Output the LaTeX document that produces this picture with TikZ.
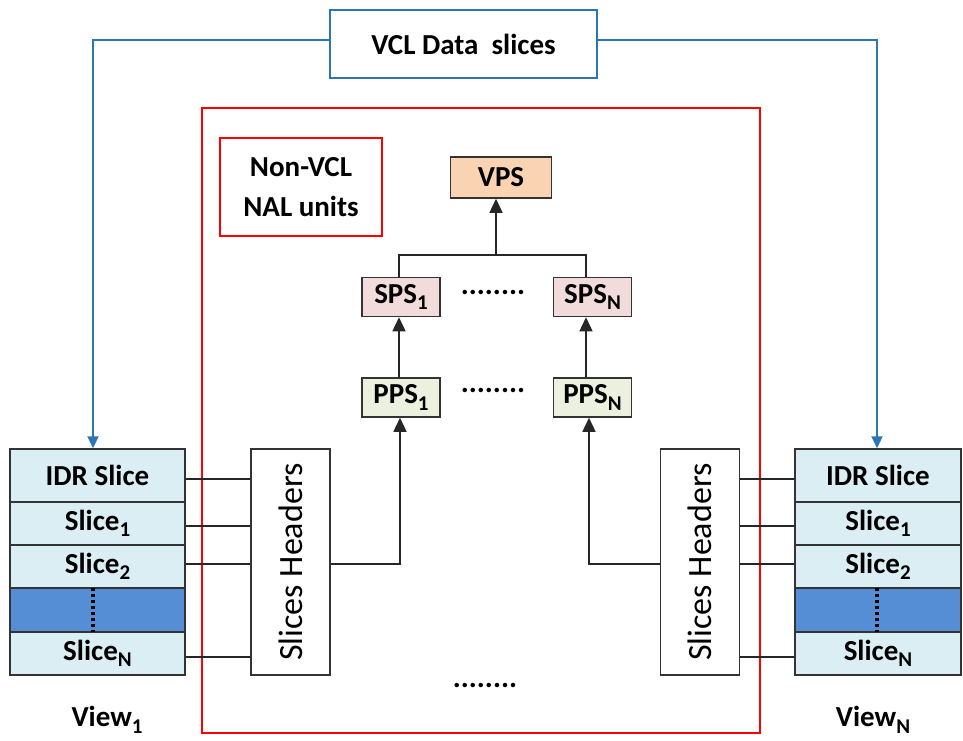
\documentclass[tikz,border=0pt]{standalone}
\usepackage{fontspec}
\setmainfont{Carlito}
\usetikzlibrary{arrows.meta}
\definecolor{lblue}{HTML}{DBEEF4}
\definecolor{dblue}{HTML}{558ED5}
\definecolor{lineblue}{HTML}{2E75B6}
\definecolor{vpsfill}{HTML}{FAD3B3}
\definecolor{spsfill}{HTML}{F2DCDB}
\definecolor{ppsfill}{HTML}{EBF1DE}
\newcommand\subx[1]{\raisebox{-0.22em}{\fontsize{21}{21}\selectfont #1}}
\begin{document}
\begin{tikzpicture}[x=1pt,y=-1pt,
  every node/.style={font=\fontsize{29}{33}\selectfont\bfseries, inner sep=0pt},
  cell/.style={draw=black!80, line width=1.5pt, fill=lblue, minimum width=175pt},
  hdr/.style={draw=black!80, line width=1.5pt, fill=white, minimum width=79pt, minimum height=226pt, font=\fontsize{34}{38}\selectfont},
  param/.style={draw=black!80, line width=1.5pt, minimum width=78pt, minimum height=39pt},
  conn/.style={draw=black!85, line width=1.4pt},
  arr/.style={conn, -{Triangle[length=14pt,width=13pt]}},
  bluearr/.style={draw=lineblue, line width=2.2pt, -{Triangle[length=12pt,width=11pt]}},
  dots/.style={font=\fontsize{30}{32}\selectfont\bfseries}
]
\useasboundingbox (0,0) rectangle (963,740);

% VCL box
\node[draw=lineblue, line width=2.2pt, minimum width=267pt, minimum height=68pt] (vcl) at (463.5,44) {VCL Data \ slices};

% outer red box
\draw[red, line width=2.2pt] (202,108) rectangle (760,733);
\node[draw=red, line width=2.2pt, minimum width=162pt, minimum height=98pt, align=center, font=\fontsize{29}{40}\selectfont\bfseries] (nonvcl) at (301,187) {Non-VCL\\NAL units};

% parameter sets
\node[param, fill=vpsfill, minimum width=101pt, minimum height=41pt] (vps) at (501,177.5) {VPS};
\node[param, fill=spsfill] (sps1) at (401,297) {SPS\subx{1}};
\node[param, fill=spsfill] (spsN) at (592.5,297) {SPS\subx{N}};
\node[param, fill=ppsfill] (pps1) at (401,397.5) {PPS\subx{1}};
\node[param, fill=ppsfill] (ppsN) at (592.5,397.5) {PPS\subx{N}};
\node[dots] (d1) at (493,292) {........};
\node[dots] (d2) at (493,390) {........};
\node[dots] (d3) at (485,685) {........};

\coordinate (jL) at (399,255);
\coordinate (jR) at (586,255);
\coordinate (jM) at (496,255);
\draw[conn] ([xshift=-2pt]sps1.north) -- (jL) -- (jR) -- ([xshift=-6.5pt]spsN.north);
\draw[arr] (jM) -- ([xshift=-5pt]vps.south);
\draw[arr] ([xshift=-2pt]pps1.north) -- ([xshift=-2pt]sps1.south);
\draw[arr] ([xshift=-6.5pt]ppsN.north) -- ([xshift=-6.5pt]spsN.south);

% left view
\node[cell, minimum height=53pt] (idrL) at (97.5,475.5) {IDR Slice};
\node[cell, minimum height=43pt] (s1L) at (97.5,523.5) {Slice\subx{1}};
\node[cell, minimum height=43pt] (s2L) at (97.5,566.5) {Slice\subx{2}};
\node[cell, minimum height=43pt, fill=dblue] (dkL) at (97.5,610) {};
\node[cell, minimum height=43pt] (snL) at (97.5,653.5) {Slice\subx{N}};
\draw[black, line width=3.5pt, dash pattern=on 3pt off 3pt] ([xshift=-4.5pt]dkL.north) -- ([xshift=-4.5pt]dkL.south);
\node[hdr] (hL) at (290.5,562) {\rotatebox{90}{Slices Headers}};
\node (v1) at (107,720) {View\subx{1}};

% right view
\node[cell, minimum height=53pt, minimum width=166pt] (idrR) at (878,475.5) {IDR Slice};
\node[cell, minimum height=43pt, minimum width=166pt] (s1R) at (878,523.5) {Slice\subx{1}};
\node[cell, minimum height=43pt, minimum width=166pt] (s2R) at (878,566.5) {Slice\subx{2}};
\node[cell, minimum height=43pt, minimum width=166pt, fill=dblue] (dkR) at (878,610) {};
\node[cell, minimum height=43pt, minimum width=166pt] (snR) at (878,653.5) {Slice\subx{N}};
\draw[black, line width=3.5pt, dash pattern=on 3pt off 3pt] ([xshift=-1pt]dkR.north) -- ([xshift=-1pt]dkR.south);
\node[hdr] (hR) at (700,562) {\rotatebox{90}{Slices Headers}};
\node (vN) at (873,720) {View\subx{N}};

% header connectors
\draw[conn] (hL.west |- idrL.west) ++(0,3.5) coordinate (a1) -- (idrL.east |- a1);
\draw[conn] (hL.west |- s1L.west) ++(0,2.5) coordinate (a2) -- (s1L.east |- a2);
\draw[conn] (hL.west |- s2L.west) ++(0,-2.5) coordinate (a3) -- (s2L.east |- a3);
\draw[conn] (hL.west |- snL.west) ++(0,3.5) coordinate (a4) -- (snL.east |- a4);
\draw[conn] (hR.east |- idrR.west) ++(0,3.5) coordinate (b1) -- (idrR.west |- b1);
\draw[conn] (hR.east |- s1R.west) ++(0,2.5) coordinate (b2) -- (s1R.west |- b2);
\draw[conn] (hR.east |- s2R.west) ++(0,-2.5) coordinate (b3) -- (s2R.west |- b3);
\draw[conn] (hR.east |- snR.west) ++(0,3.5) coordinate (b4) -- (snR.west |- b4);

\draw[arr] ([yshift=-2pt]hL.east) -| ([xshift=-1pt]pps1.south);
\draw[arr] ([yshift=-2pt]hR.west) -| ([xshift=-3.5pt]ppsN.south);

% blue VCL lines
\draw[bluearr] ([yshift=4pt]vcl.west) -| ([xshift=-4.5pt]idrL.north);
\draw[bluearr] ([yshift=4pt]vcl.east) -| ([xshift=-1pt]idrR.north);
\end{tikzpicture}
\end{document}
